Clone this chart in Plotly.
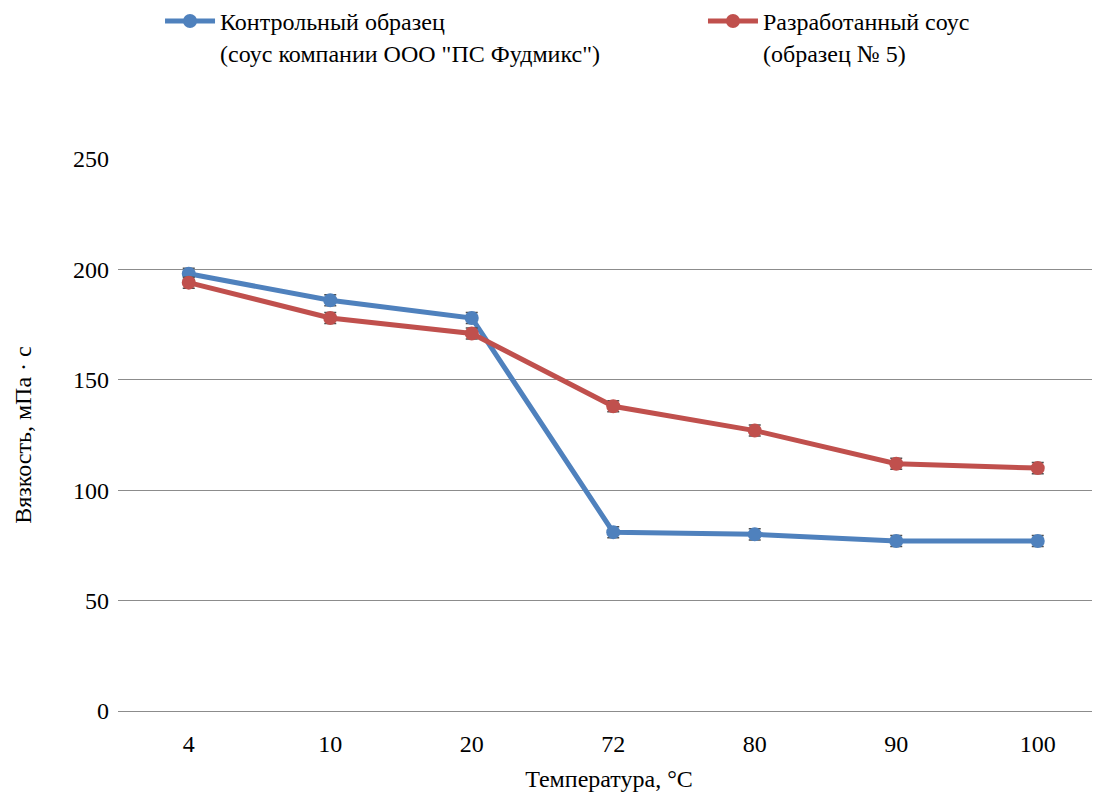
import plotly.graph_objects as go

categories = ["4", "10", "20", "72", "80", "90", "100"]
control_values = [198, 186, 178, 81, 80, 77, 77]
developed_values = [194, 178, 171, 138, 127, 112, 110]
control_err = [2.5, 2.5, 2.5, 2.5, 2.5, 2.5, 2.5]
developed_err = [2.5, 2.5, 2.5, 2.5, 2.5, 2.5, 2.5]
y_ticks = [0, 50, 100, 150, 200, 250]

name_control = "Контрольный образец<br>(соус компании ООО \"ПС Фудмикс\")"
name_developed = "Разработанный соус<br>(образец № 5)"

FONT = "Liberation Serif"
FS = 24

fig = go.Figure()
fig.add_trace(go.Scatter(
    x=categories, y=control_values, name=name_control, mode="lines+markers",
    line=dict(color="#4F81BD", width=5),
    marker=dict(symbol="circle", size=14, color="#4F81BD"),
    error_y=dict(type="data", array=control_err, color="#505050", thickness=1.5, width=6),
    legend="legend",
))
fig.add_trace(go.Scatter(
    x=categories, y=developed_values, name=name_developed, mode="lines+markers",
    line=dict(color="#C0504D", width=5),
    marker=dict(symbol="circle", size=14, color="#C0504D"),
    error_y=dict(type="data", array=developed_err, color="#505050", thickness=1.5, width=6),
    legend="legend2",
))

legend_common = dict(
    orientation="v", xanchor="left", yanchor="top", valign="top",
    font=dict(family=FONT, size=FS, color="black"),
    itemwidth=50, bgcolor="rgba(0,0,0,0)",
)

fig.update_layout(
    width=1092, height=788,
    margin=dict(l=110, r=0, t=151, b=85, autoexpand=False),
    paper_bgcolor="white", plot_bgcolor="white",
    font=dict(family=FONT, size=FS, color="black"),
    legend=dict(x=0.0428, y=1.29, **legend_common),
    legend2=dict(x=0.5957, y=1.29, **legend_common),
    xaxis=dict(
        type="category", categoryorder="array", categoryarray=categories,
        range=[-0.5, 6.44], showgrid=False, showline=False, zeroline=False,
        ticks="", ticklabelstandoff=16, tickfont=dict(family=FONT, size=FS),
        automargin=False,
        title=dict(text="Температура, °C", font=dict(family=FONT, size=FS), standoff=14),
    ),
    yaxis=dict(
        range=[0, 250], tickvals=y_ticks, showgrid=True, gridcolor="#8C8C8C", gridwidth=1.3,
        zeroline=True, zerolinecolor="#8C8C8C", zerolinewidth=1.3,
        showline=False, ticks="", ticklabelstandoff=8, automargin=False,
        tickfont=dict(family=FONT, size=FS),
        title=dict(text="Вязкость, мПа · с", font=dict(family=FONT, size=FS), standoff=34),
    ),
    showlegend=True,
)

fig.write_html("out.html")
